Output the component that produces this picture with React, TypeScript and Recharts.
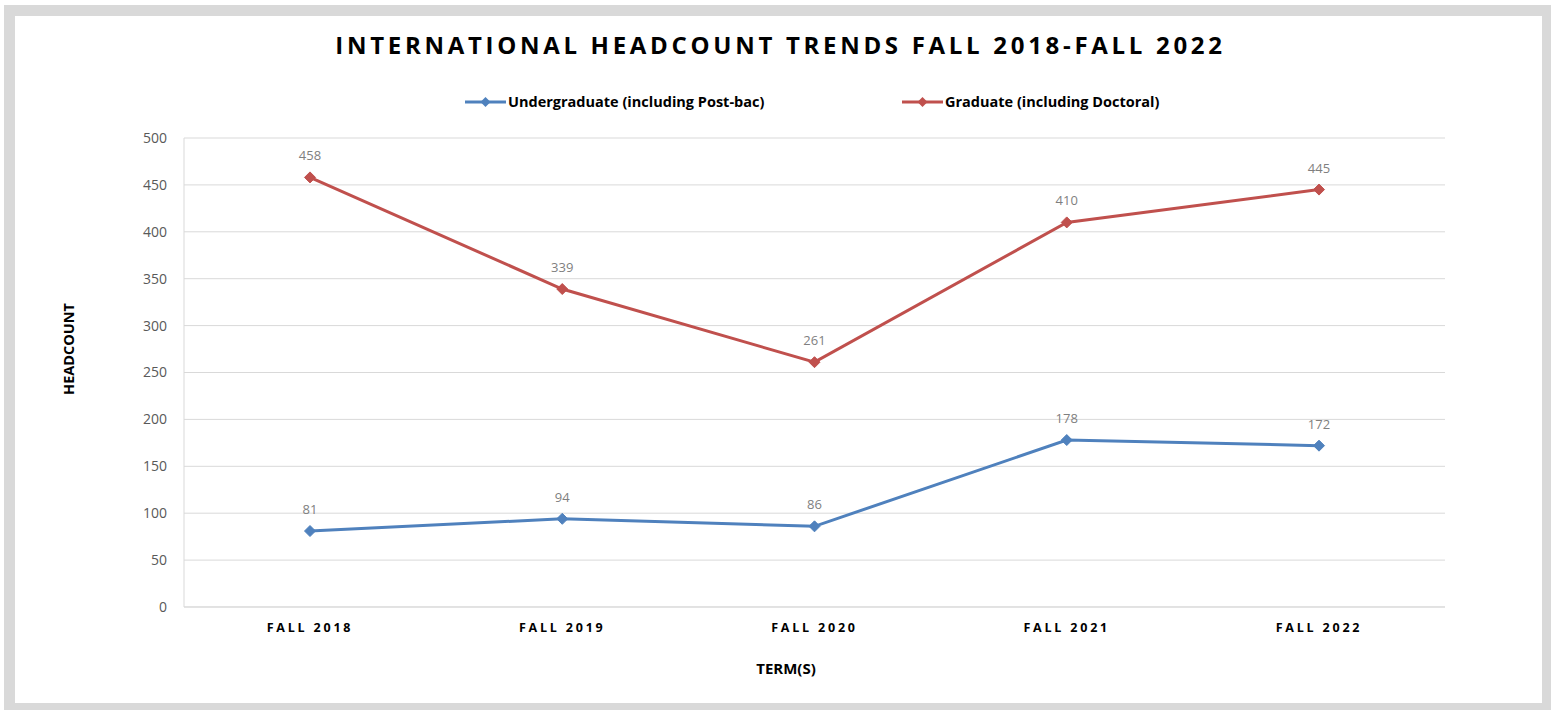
import React from 'react';
import { LineChart, Line, XAxis, YAxis, CartesianGrid, LabelList } from 'recharts';

const terms = ['FALL 2018', 'FALL 2019', 'FALL 2020', 'FALL 2021', 'FALL 2022'];
const undergraduate = [81, 94, 86, 178, 172];
const graduate = [458, 339, 261, 410, 445];
const yTicks = [0, 50, 100, 150, 200, 250, 300, 350, 400, 450, 500];

const seriesNames = ['Undergraduate (including Post-bac)', 'Graduate (including Doctoral)'];
const BLUE = '#4f81bd';
const RED = '#c0504d';

const data = terms.map((t, i) => ({ term: t, ug: undergraduate[i], gr: graduate[i] }));

const FONT = '"Open Sans", sans-serif';

const Diamond = (color: string) => (props: any) => {
  const { cx, cy } = props;
  if (cx == null || cy == null) return null;
  const r = 5.5;
  return (
    <polygon
      key={`d-${cx}-${cy}`}
      points={`${cx},${cy - r} ${cx + r},${cy} ${cx},${cy + r} ${cx - r},${cy}`}
      fill={color}
      stroke={color}
      strokeWidth={1}
    />
  );
};

const LegendItem = ({ color, label, left }: { color: string; label: string; left: number }) => (
  <div style={{ position: 'absolute', left, top: 0, display: 'flex', alignItems: 'center', whiteSpace: 'nowrap', height: 16 }}>
    <svg width={42} height={12} style={{ display: 'block' }}>
      <line x1={0} y1={6} x2={41} y2={6} stroke={color} strokeWidth={3} />
      <polygon points="20.5,1 25.5,6 20.5,11 15.5,6" fill={color} />
    </svg>
    <span style={{ fontFamily: FONT, fontWeight: 700, fontSize: 14.5, color: '#000', marginLeft: 1, lineHeight: '16px' }}>{label}</span>
  </div>
);

export default function App() {
  return (
    <div style={{ position: 'absolute', left: 0, top: 0, width: 1551, height: 710, background: '#fff', overflow: 'hidden' }}>
      <div
        style={{
          position: 'absolute',
          left: 4,
          top: 5,
          width: 1547,
          height: 705,
          boxSizing: 'border-box',
          borderStyle: 'solid',
          borderColor: '#d9d9d9',
          borderWidth: '11px 9px 7px 11px',
          background: '#fff',
        }}
      />
      <div
        style={{
          position: 'absolute',
          left: 0,
          top: 29,
          width: 1561,
          textAlign: 'center',
          fontFamily: FONT,
          fontWeight: 700,
          fontSize: 24,
          letterSpacing: 3.7,
          color: '#000',
          lineHeight: '32px',
          whiteSpace: 'nowrap',
        }}
      >
        INTERNATIONAL HEADCOUNT TRENDS FALL 2018-FALL 2022
      </div>
      <div style={{ position: 'absolute', left: 0, top: 94, width: 1551, height: 16 }}>
        <LegendItem color={BLUE} label={seriesNames[0]} left={465} />
        <LegendItem color={RED} label={seriesNames[1]} left={902} />
      </div>
      <div
        style={{
          position: 'absolute',
          left: 68,
          top: 349,
          transform: 'translate(-50%, -50%) rotate(-90deg)',
          fontFamily: FONT,
          fontWeight: 700,
          fontSize: 14.5,
          color: '#000',
          whiteSpace: 'nowrap',
        }}
      >
        HEADCOUNT
      </div>
      <div
        style={{
          position: 'absolute',
          left: 786,
          top: 668,
          transform: 'translate(-50%, -50%)',
          fontFamily: FONT,
          fontWeight: 700,
          fontSize: 15,
          color: '#000',
          whiteSpace: 'nowrap',
        }}
      >
        TERM(S)
      </div>
      <div style={{ position: 'absolute', left: 0, top: 0 }}>
        <LineChart width={1551} height={710} data={data} margin={{ top: 138, right: 106, bottom: 73, left: 124 }}>
          <CartesianGrid vertical={false} stroke="#d9d9d9" strokeWidth={1} />
          <XAxis
            dataKey="term"
            padding={{ left: 126, right: 126 }}
            axisLine={{ stroke: '#d9d9d9', strokeWidth: 1 }}
            tickLine={false}
            tickSize={0}
            tickMargin={16}
            height={30}
            tick={{ fontFamily: FONT, fontWeight: 700, fontSize: 12.5, fill: '#000', letterSpacing: 2.8 }}
          />
          <YAxis
            domain={[0, 500]}
            ticks={yTicks}
            width={60}
            axisLine={{ stroke: '#d9d9d9', strokeWidth: 1 }}
            tickLine={false}
            tickSize={0}
            tickMargin={17}
            tick={{ fontFamily: FONT, fontSize: 14, fill: '#595959' }}
          />
          <Line
            type="linear"
            dataKey="ug"
            name={seriesNames[0]}
            stroke={BLUE}
            strokeWidth={3}
            dot={Diamond(BLUE)}
            activeDot={false}
            isAnimationActive={false}
          >
            <LabelList dataKey="ug" position="top" offset={17} style={{ fontFamily: FONT, fontSize: 13, fill: '#7f7f7f' }} />
          </Line>
          <Line
            type="linear"
            dataKey="gr"
            name={seriesNames[1]}
            stroke={RED}
            strokeWidth={3}
            dot={Diamond(RED)}
            activeDot={false}
            isAnimationActive={false}
          >
            <LabelList dataKey="gr" position="top" offset={17} style={{ fontFamily: FONT, fontSize: 13, fill: '#7f7f7f' }} />
          </Line>
        </LineChart>
      </div>
    </div>
  );
}
